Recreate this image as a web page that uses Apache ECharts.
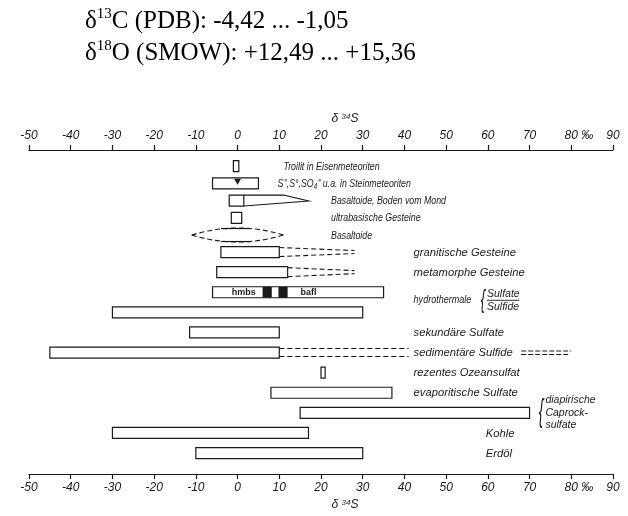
<!DOCTYPE html>
<html>
<head>
<meta charset="utf-8">
<script src="https://cdn.jsdelivr.net/npm/echarts@6/dist/echarts.min.js"></script>
<style>
    html, body { margin: 0; padding: 0; background: #fff; }
    #main { width: 628px; height: 516px; }
</style>
</head>
<body>
<div id="main"></div>
<script>
// δ34S-Bereiche (‰) der Schwefelquellen, von oben nach unten
var names = ['Troilit in Eisenmeteoriten', 'S⁼,S°,SO₄⁼ u.a. in Steinmeteoriten', 'Basaltoide, Boden vom Mond',
    'ultrabasische Gesteine', 'Basaltoide', 'granitische Gesteine', 'metamorphe Gesteine', 'Sulfate', 'Sulfide',
    'sekundäre Sulfate', 'sedimentäre Sulfide', 'rezentes Ozeansulfat', 'evaporitische Sulfate',
    'diapirische\nCaprock-\nsulfate', 'Kohle', 'Erdöl'];
var lows = [-1, -6, -2, -1.5, -4, -4, -5, -6, -30, -11.5, -45, 20, 8, 15, -30, -10];
var highs = [0.3, 5, 1.5, 1, 3, 10, 12, 35, 30, 10, 10, 21, 37, 70, 17, 30];
// unsichere / auslaufende Fortsetzung nach rechts
var tailTo = [null, null, 17, null, 11, 28, 28, null, null, null, 41, null, null, null, null, null];
var lensFrom = -11;          // Basaltoide, gestrichelt nach links
var farTail = [68, 80];      // sedimentäre Sulfide =====
var meteoriteMark = 0;       // ▼ Steinmeteoriten
var blackBands = [[6, 8.2], [9.8, 12]];  // hydrothermale Sulfate
var innerText = [['hmbs', 1.5], ['bafl', 17]];

// Spalten der Beschriftung (auf der δ34S-Skala)
var labelX = [11, 9.6, 22.4, 22.4, 22.4, 42.2, 42.2, 42.2, 42.2, 42.2, 42.2, 42.2, 42.2, 73.8, 59.5, 59.5];

var INK = '#1a1a1a';
var FONT = '"Liberation Sans", Arial, sans-serif';

// kursive Beschriftung, sx < 1 schmaler (Normschrift ist eng)
function txt(x, y, s, size, sx, extra) {
    var st = {
        text: s, x: 0, y: 0, fill: INK, font: 'italic ' + size + 'px ' + FONT,
        verticalAlign: 'middle', align: 'left'
    };
    for (var k in extra) st[k] = extra[k];
    return {type: 'text', x: x, y: y, scaleX: sx || 1, style: st};
}

function renderRow(params, api) {
    var i = api.value(3);
    var row = api.value(0);
    var px = function (v) { return api.coord([v, row])[0]; };
    var y = api.coord([0, row])[1];
    var band = api.size([0, 1])[1];
    var h = 11, top = y - h / 2, bot = y + h / 2;
    var x0 = px(lows[i]), x1 = px(highs[i]);
    var solid = {stroke: INK, lineWidth: 1.2, fill: null};
    var dash = {stroke: INK, lineWidth: 1.1, lineDash: [5, 3], fill: null};
    var kids = [];

    if (i === 4) {
        // Linse, gestrichelt, mit festem Kern
        var L = px(lensFrom), R = px(tailTo[i]), M = (L + R) / 2;
        kids.push({type: 'bezierCurve', shape: {x1: L, y1: y, x2: R, y2: y, cpx1: M, cpy1: y - 14}, style: dash});
        kids.push({type: 'bezierCurve', shape: {x1: L, y1: y, x2: R, y2: y, cpx1: M, cpy1: y + 14}, style: dash});
        kids.push({type: 'line', shape: {x1: x0, y1: y - 6.5, x2: x1, y2: y - 6.5}, style: solid});
        kids.push({type: 'line', shape: {x1: x0, y1: y + 6.5, x2: x1, y2: y + 6.5}, style: solid});
    } else {
        kids.push({
            type: 'rect', shape: {x: x0, y: top, width: x1 - x0, height: h},
            style: {stroke: INK, lineWidth: 1.2, fill: '#fff'}
        });
    }

    if (i === 1) {
        var m = px(meteoriteMark);
        kids.push({type: 'polygon', shape: {points: [[m - 3.5, top + 1], [m + 3.5, top + 1], [m, top + 7]]}, style: {fill: INK}});
    }
    if (i === 2) {
        kids.push({type: 'polyline', shape: {points: [[x1, top], [px(11), top], [px(tailTo[i]), y + 0.5], [x1, bot]]}, style: solid});
    }
    if (i === 5 || i === 6) {
        var e = px(tailTo[i]);
        kids.push({type: 'line', shape: {x1: x1, y1: top + 1, x2: e, y2: y - 1.5}, style: dash});
        kids.push({type: 'line', shape: {x1: x1, y1: bot - 1, x2: e, y2: y + 1.5}, style: dash});
    }
    if (i === 10) {
        var e2 = px(tailTo[i]);
        kids.push({type: 'line', shape: {x1: x1, y1: top + 1.5, x2: e2, y2: top + 1.5}, style: dash});
        kids.push({type: 'line', shape: {x1: x1, y1: bot - 1.5, x2: e2, y2: bot - 1.5}, style: dash});
        var f0 = px(farTail[0]), f1 = px(farTail[1]);
        var dd = {stroke: INK, lineWidth: 1.1, lineDash: [5, 2], fill: null};
        kids.push({type: 'line', shape: {x1: f0, y1: y - 1.5, x2: f1, y2: y - 1.5}, style: dd});
        kids.push({type: 'line', shape: {x1: f0, y1: y + 2, x2: f1 - 3, y2: y + 2}, style: dd});
    }
    if (i === 7) {
        blackBands.forEach(function (b) {
            kids.push({type: 'rect', shape: {x: px(b[0]), y: top, width: px(b[1]) - px(b[0]), height: h}, style: {fill: INK}});
        });
        innerText.forEach(function (t) {
            kids.push(txt(px(t[1]), y + 0.5, t[0], 9, 1, {font: 'bold 9px ' + FONT, align: 'center'}));
        });
        // hydrothermale { Sulfate / Sulfide
        var yc = y + band / 2 - 2;
        kids.push(txt(px(labelX[i]), yc, 'hydrothermale', 11, 0.82));
        kids.push({type: 'text', x: px(58.3), y: yc, scaleY: 2, style: {text: '{', x: 0, y: 0, fill: INK, font: 'italic 13px ' + FONT, verticalAlign: 'middle', align: 'left'}});
        kids.push(txt(px(59.8), yc - 6.5, names[7], 10.5));
        kids.push({type: 'line', shape: {x1: px(59.8), y1: yc, x2: px(67.5), y2: yc}, style: {stroke: INK, lineWidth: 0.9}});
        kids.push(txt(px(59.8), yc + 6.5, names[8], 10.5));
    } else if (i === 13) {
        kids.push({type: 'text', x: px(72.2), y: y, scaleY: 2.2, style: {text: '{', x: 0, y: 0, fill: INK, font: 'italic 14px ' + FONT, verticalAlign: 'middle', align: 'left'}});
        kids.push(txt(px(labelX[i]), y, names[i], 10.5, 1, {lineHeight: 12.5}));
    } else if (i !== 8) {
        kids.push(txt(px(labelX[i]), y + 0.5, names[i], 11, i < 5 ? 0.8 : 1.02));
    }
    return {type: 'group', children: kids};
}

function rowData(from, to) {
    var out = [];
    for (var i = from; i <= to; i++) out.push([i - from, lows[i], highs[i], i]);
    return out;
}

var axisStyle = {
    type: 'value', min: -50, max: 90, interval: 10,
    axisLine: {onZero: false, lineStyle: {color: INK, width: 1.2}},
    axisTick: {length: 5, lineStyle: {color: INK, width: 1.2}},
    axisLabel: {
        color: INK, fontSize: 12, fontStyle: 'italic', fontFamily: FONT, margin: 8,
        formatter: function (v) { return v === 80 ? '{h|‰ }80 ‰' : String(v); },
        rich: {h: {color: 'rgba(0,0,0,0)'}}
    },
    splitLine: {show: false},
    name: '{d|δ} {s|34}{d|S}', nameLocation: 'middle',
    nameTextStyle: {
        padding: [0, 0, 0, 48],
        rich: {
            d: {fontSize: 12, fontStyle: 'italic', fontFamily: FONT, color: INK},
            s: {fontSize: 8, fontStyle: 'italic', fontFamily: FONT, color: INK, verticalAlign: 'top', lineHeight: 8}
        }
    }
};

function axis(extra) {
    var a = JSON.parse(JSON.stringify(axisStyle));
    a.axisLabel.formatter = axisStyle.axisLabel.formatter;
    for (var k in extra) a[k] = extra[k];
    return a;
}

var serif = '"Liberation Serif", "Times New Roman", serif';
function header(top, text) {
    return {
        type: 'text', left: 85, top: top,
        style: {
            text: text,
            rich: {
                d: {fontSize: 25, fontFamily: serif, fill: '#000', lineHeight: 28},
                s: {fontSize: 15, fontFamily: serif, fill: '#000', verticalAlign: 'top', lineHeight: 18}
            }
        }
    };
}

var myChart = echarts.init(document.getElementById('main'));
myChart.setOption({
    backgroundColor: '#fff',
    animation: false,
    graphic: [
        header(7, '{d|δ}{s|13}{d|C (PDB): -4,42 ... -1,05}'),
        header(39, '{d|δ}{s|18}{d|O (SMOW): +12,49 ... +15,36}')
    ],
    grid: [
        {left: 29, right: 15, top: 150, bottom: 39},
        {left: 29, right: 15, top: 157.4, height: 86.25},
        {left: 29, right: 15, top: 242, height: 221.1}
    ],
    xAxis: [
        axis({gridIndex: 0, position: 'top', nameGap: 24}),
        axis({gridIndex: 0, position: 'bottom', nameGap: 25}),
        {gridIndex: 1, type: 'value', min: -50, max: 90, show: false},
        {gridIndex: 2, type: 'value', min: -50, max: 90, show: false}
    ],
    yAxis: [
        {gridIndex: 0, type: 'value', min: 0, max: 1, show: false},
        {gridIndex: 1, type: 'category', inverse: true, data: names.slice(0, 5), show: false},
        {gridIndex: 2, type: 'category', inverse: true, data: names.slice(5), show: false}
    ],
    series: [
        {type: 'custom', xAxisIndex: 2, yAxisIndex: 1, renderItem: renderRow, encode: {x: [1, 2], y: 0}, data: rowData(0, 4), silent: true},
        {type: 'custom', xAxisIndex: 3, yAxisIndex: 2, renderItem: renderRow, encode: {x: [1, 2], y: 0}, data: rowData(5, 15), silent: true}
    ]
});
</script>
</body>
</html>
